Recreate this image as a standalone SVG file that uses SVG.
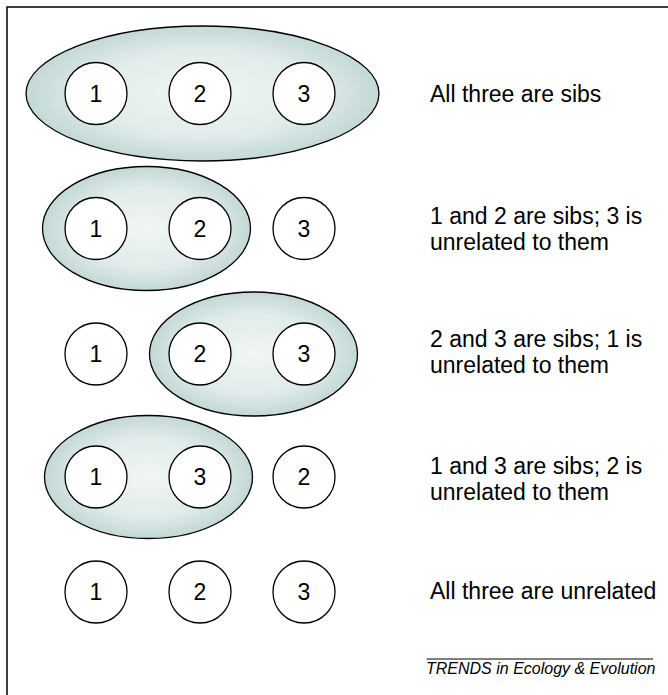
<svg xmlns="http://www.w3.org/2000/svg" width="668" height="695" viewBox="0 0 668 695">
<defs>
<radialGradient id="g" cx="0.5" cy="0.5" r="0.5">
<stop offset="0" stop-color="#f1f6f5"/>
<stop offset="0.65" stop-color="#e0ebea"/>
<stop offset="1" stop-color="#c3d8d6"/>
</radialGradient>
<style>
.grp{fill:url(#g);stroke:#000;stroke-width:1.3}
.ind{fill:#fff;stroke:#000;stroke-width:1.3}
.num{font-family:"Liberation Sans",Arial,sans-serif;font-size:23px;fill:#000;text-anchor:middle}
.lbl{font-family:"Liberation Sans",Arial,sans-serif;font-size:23px;fill:#000}
.foot{font-family:"Liberation Sans",Arial,sans-serif;font-size:16px;font-style:italic;fill:#000}
</style>
</defs>
<rect width="668" height="695" fill="#fff"/>
<path d="M7,695 V7 H668" fill="none" stroke="#000" stroke-width="1.5"/>
<g id="connectors"></g>

<g id="row1">
<ellipse class="grp" cx="202.5" cy="93.5" rx="176.5" ry="67.5"/>
<circle class="ind" cx="96" cy="93.5" r="31"/><text class="num" x="96" y="101.5">1</text>
<circle class="ind" cx="200" cy="93.5" r="31"/><text class="num" x="200" y="101.5">2</text>
<circle class="ind" cx="304" cy="93.5" r="31"/><text class="num" x="304" y="101.5">3</text>
<text class="lbl" x="430" y="101.5">All three are sibs</text>
</g>

<g id="row2">
<ellipse class="grp" cx="146.5" cy="228.5" rx="104" ry="62"/>
<circle class="ind" cx="96" cy="228.5" r="31"/><text class="num" x="96" y="236.5">1</text>
<circle class="ind" cx="200" cy="228.5" r="31"/><text class="num" x="200" y="236.5">2</text>
<circle class="ind" cx="304" cy="228.5" r="31"/><text class="num" x="304" y="236.5">3</text>
<text class="lbl" x="430" y="224">1 and 2 are sibs; 3 is</text>
<text class="lbl" x="430" y="250">unrelated to them</text>
</g>

<g id="row3">
<ellipse class="grp" cx="253.5" cy="354" rx="104" ry="62"/>
<circle class="ind" cx="96" cy="354" r="31"/><text class="num" x="96" y="362">1</text>
<circle class="ind" cx="200" cy="354" r="31"/><text class="num" x="200" y="362">2</text>
<circle class="ind" cx="304" cy="354" r="31"/><text class="num" x="304" y="362">3</text>
<text class="lbl" x="430" y="347">2 and 3 are sibs; 1 is</text>
<text class="lbl" x="430" y="373">unrelated to them</text>
</g>

<g id="row4">
<ellipse class="grp" cx="148.5" cy="477" rx="104" ry="61.5"/>
<circle class="ind" cx="96" cy="477" r="31"/><text class="num" x="96" y="485">1</text>
<circle class="ind" cx="200" cy="477" r="31"/><text class="num" x="200" y="485">3</text>
<circle class="ind" cx="304" cy="477" r="31"/><text class="num" x="304" y="485">2</text>
<text class="lbl" x="430" y="474">1 and 3 are sibs; 2 is</text>
<text class="lbl" x="430" y="500">unrelated to them</text>
</g>

<g id="row5">
<circle class="ind" cx="96" cy="592" r="31"/><text class="num" x="96" y="600">1</text>
<circle class="ind" cx="200" cy="592" r="31"/><text class="num" x="200" y="600">2</text>
<circle class="ind" cx="304" cy="592" r="31"/><text class="num" x="304" y="600">3</text>
<text class="lbl" x="430" y="599">All three are unrelated</text>
</g>

<g id="footer">
<line x1="426.5" y1="659" x2="653" y2="659" stroke="#000" stroke-width="1"/>
<text class="foot" x="426" y="673.5">TRENDS in Ecology &amp; Evolution</text>
</g>
</svg>
